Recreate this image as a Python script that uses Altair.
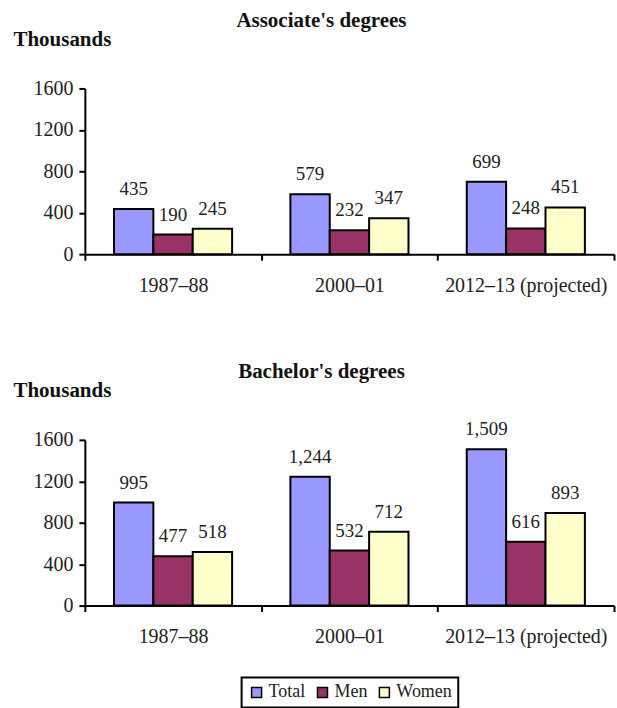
import altair as alt
import pandas as pd

# School years on the category axis
years = ["1987–88", "2000–01", "2012–13 (projected)"]
series = ["Total", "Men", "Women"]

# Associate's degrees conferred (thousands)
assoc_total = [435, 579, 699]
assoc_men = [190, 232, 248]
assoc_women = [245, 347, 451]

# Bachelor's degrees conferred (thousands)
bach_total = [995, 1244, 1509]
bach_men = [477, 532, 616]
bach_women = [518, 712, 893]

y_ticks = [0, 400, 800, 1200, 1600]
colors = ["#9999FF", "#993366", "#FFFFCC"]

FONT = "Liberation Serif"


def frame(total, men, women):
    rows = []
    for i, yr in enumerate(years):
        for s, v in zip(series, (total[i], men[i], women[i])):
            rows.append({"year": yr, "series": s, "value": v})
    return pd.DataFrame(rows)


def panel(df, title):
    x = alt.X(
        "year:N", sort=years, title=None,
        scale=alt.Scale(paddingInner=0, paddingOuter=0),
        axis=alt.Axis(tickBand="extent", labelAngle=0, labelPadding=15),
    )
    xo = alt.XOffset(
        "series:N", sort=series,
        scale=alt.Scale(paddingOuter=0.74, paddingInner=0),
    )
    y = alt.Y(
        "value:Q",
        scale=alt.Scale(domain=[0, 1600]),
        axis=alt.Axis(
            values=y_ticks, format="d", grid=False, labelPadding=6,
            title="Thousands", titleAngle=0, titleAlign="left",
            titleBaseline="alphabetic", titleX=-72, titleY=-43,
            titleFontWeight="bold", titleFontSize=21,
        ),
    )
    color = alt.Color(
        "series:N", sort=series, title=None,
        scale=alt.Scale(domain=series, range=colors),
        legend=alt.Legend(
            orient="none", direction="horizontal", columns=3,
            legendX=157, legendY=590,
        ),
    )
    bars = alt.Chart(df).mark_bar(stroke="black", strokeWidth=2).encode(
        x=x, xOffset=xo, y=y, color=color
    )
    labels = alt.Chart(df).mark_text(
        baseline="alphabetic", dy=-14, font=FONT, fontSize=19, color="#222222"
    ).encode(
        x=x, xOffset=xo, y=y,
        text=alt.Text("value:Q", format=","),
    )
    return alt.layer(bars, labels).properties(
        width=530, height=166,
        title=alt.TitleParams(
            title, anchor="middle", dx=-28, font=FONT, fontSize=21,
            fontWeight="bold", color="#111111", offset=-2,
        ),
    )


top = panel(frame(assoc_total, assoc_men, assoc_women), "Associate's degrees")
bottom = panel(frame(bach_total, bach_men, bach_women), "Bachelor's degrees")

chart = alt.vconcat(top, bottom, spacing=66).properties(
    padding={"left": 13, "top": 9, "right": 2, "bottom": 0}
).configure_view(stroke=None).configure_axis(
    labelFont=FONT, titleFont=FONT, labelFontSize=20, labelColor="#222222",
    titleColor="#111111", domainColor="black", domainWidth=2,
    tickColor="black", tickWidth=2, tickSize=6,
).configure_legend(
    labelFont=FONT, labelFontSize=18, labelColor="#222222",
    symbolType="square", symbolSize=100, symbolStrokeColor="black",
    symbolStrokeWidth=1.5, symbolOpacity=1, strokeColor="black",
    strokeWidth=2, padding=6, columnPadding=8, labelOffset=3,
)

chart.save("out.html", embed_options={"renderer": "svg", "actions": False})
